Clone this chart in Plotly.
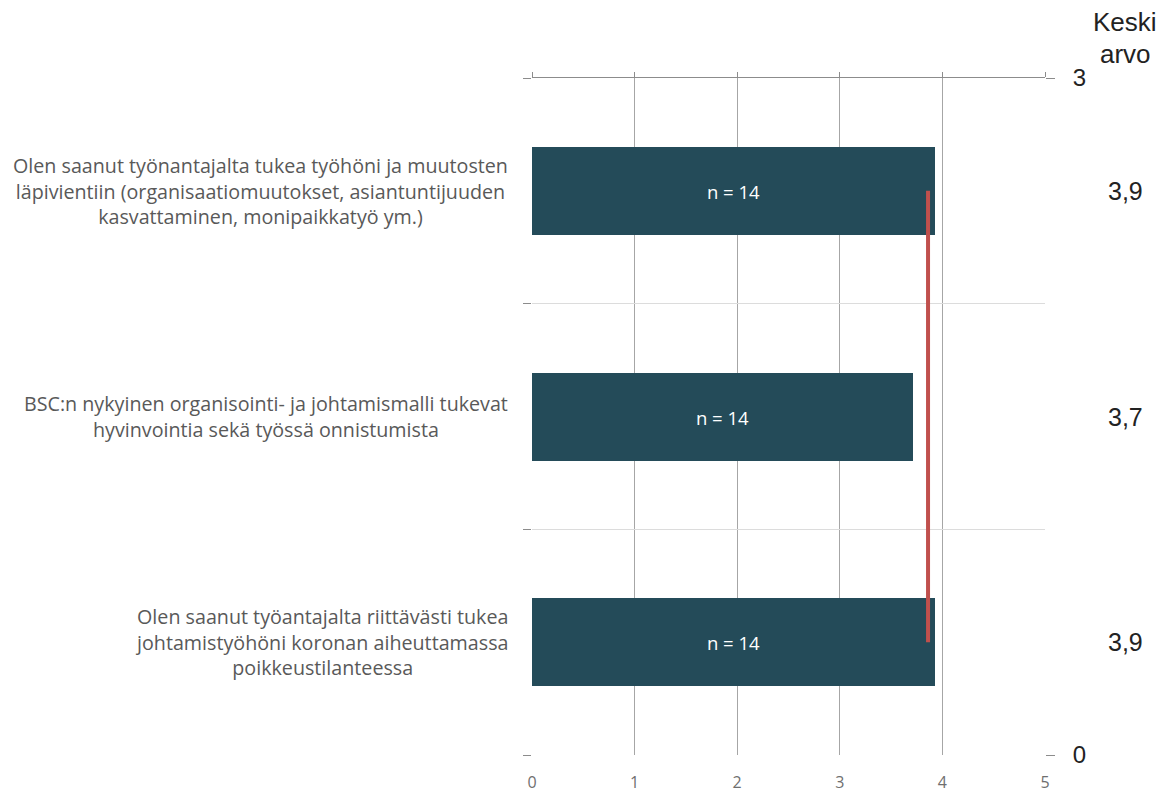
import plotly.graph_objects as go

statements = [
    "Olen saanut työnantajalta tukea työhöni ja muutosten<br>läpivientiin (organisaatiomuutokset, asiantuntijuuden<br>kasvattaminen, monipaikkatyö ym.)",
    "BSC:n nykyinen organisointi- ja johtamismalli tukevat<br>hyvinvointia sekä työssä onnistumista",
    "Olen saanut työantajalta riittävästi tukea<br>johtamistyöhöni koronan aiheuttamassa<br>poikkeustilanteessa",
]
means = [3.93, 3.71, 3.93]
n_values = [14, 14, 14]
overall_avg = [3.86, 3.86, 3.86]
x_ticks = [0, 1, 2, 3, 4, 5]
right_ticks = [0, 3]

k = len(statements)
pos = [k - i - 0.5 for i in range(k)]

BAR = "#244b59"
GRID_V = "#a6a6a6"
GRID_H = "#dcdcdc"
TXT = "#595959"

fig = go.Figure()
fig.add_trace(go.Bar(
    x=means, y=pos, orientation="h", width=0.39,
    marker=dict(color=BAR, line=dict(width=0)),
    text=[f"n = {n}" for n in n_values], textposition="inside",
    insidetextanchor="middle",
    textfont=dict(family="Open Sans", size=18.5, color="white"),
    hoverinfo="skip", showlegend=False,
))
fig.add_trace(go.Scatter(
    x=overall_avg, y=pos, xaxis="x2", mode="lines",
    line=dict(color="#c0504d", width=4), showlegend=False, hoverinfo="skip",
))
fig.add_trace(go.Scatter(
    x=[None], y=[None], yaxis="y2", showlegend=False, hoverinfo="skip",
))

for p, s, m in zip(pos, statements, means):
    fig.add_annotation(
        xref="paper", yref="y", x=0, y=p, xshift=-22, xanchor="right",
        text=s, align="center", showarrow=False,
        font=dict(family="Open Sans", size=19.7, color=TXT),
    )
    fig.add_annotation(
        xref="paper", yref="y", x=1, y=p, xshift=80, xanchor="center",
        text=f"{m:.1f}".replace(".", ","), showarrow=False,
        font=dict(family="Liberation Sans", size=25, color="#222222"),
    )

fig.add_annotation(xref="paper", yref="paper", x=1, y=1, xshift=80, yshift=56,
                   xanchor="center", yanchor="middle", text="Keski", showarrow=False,
                   font=dict(family="Liberation Sans", size=26, color="#222222"))
fig.add_annotation(xref="paper", yref="paper", x=1, y=1, xshift=80, yshift=24,
                   xanchor="center", yanchor="middle", text="arvo", showarrow=False,
                   font=dict(family="Liberation Sans", size=26, color="#222222"))

fig.update_layout(
    width=1170, height=796,
    margin=dict(l=532, r=125, t=78, b=41),
    plot_bgcolor="white", paper_bgcolor="white",
    bargap=0,
    xaxis=dict(range=[0, 5], tickvals=x_ticks, showgrid=True, gridcolor=GRID_V,
               gridwidth=1.3, zeroline=False, showline=False, automargin=False,
               ticks="outside", ticklen=13, tickcolor="rgba(0,0,0,0)",
               tickfont=dict(family="Open Sans", size=16, color="#6f6f6f")),
    xaxis2=dict(range=[0, 5], overlaying="x", side="top", tickvals=x_ticks,
                showgrid=False, zeroline=False, showline=True, linecolor="#8c8c8c",
                linewidth=1.3, ticks="outside", ticklen=5, tickcolor="#8c8c8c",
                showticklabels=False, automargin=False),
    yaxis=dict(range=[0, 3], tickvals=[0, 1, 2, 3], showticklabels=False,
               ticks="outside", ticklen=8, tickcolor="#8c8c8c", automargin=False,
               showgrid=True, gridcolor=GRID_H, zeroline=False, showline=False),
    yaxis2=dict(range=[0, 3], overlaying="y", side="right", tickvals=right_ticks,
                ticks="outside", ticklen=9, tickcolor="#8c8c8c", showgrid=False,
                zeroline=False, showline=False, automargin=False,
                ticklabelstandoff=13,
                tickfont=dict(family="Liberation Sans", size=24, color="#222222")),
)

fig.write_html("out.html")
